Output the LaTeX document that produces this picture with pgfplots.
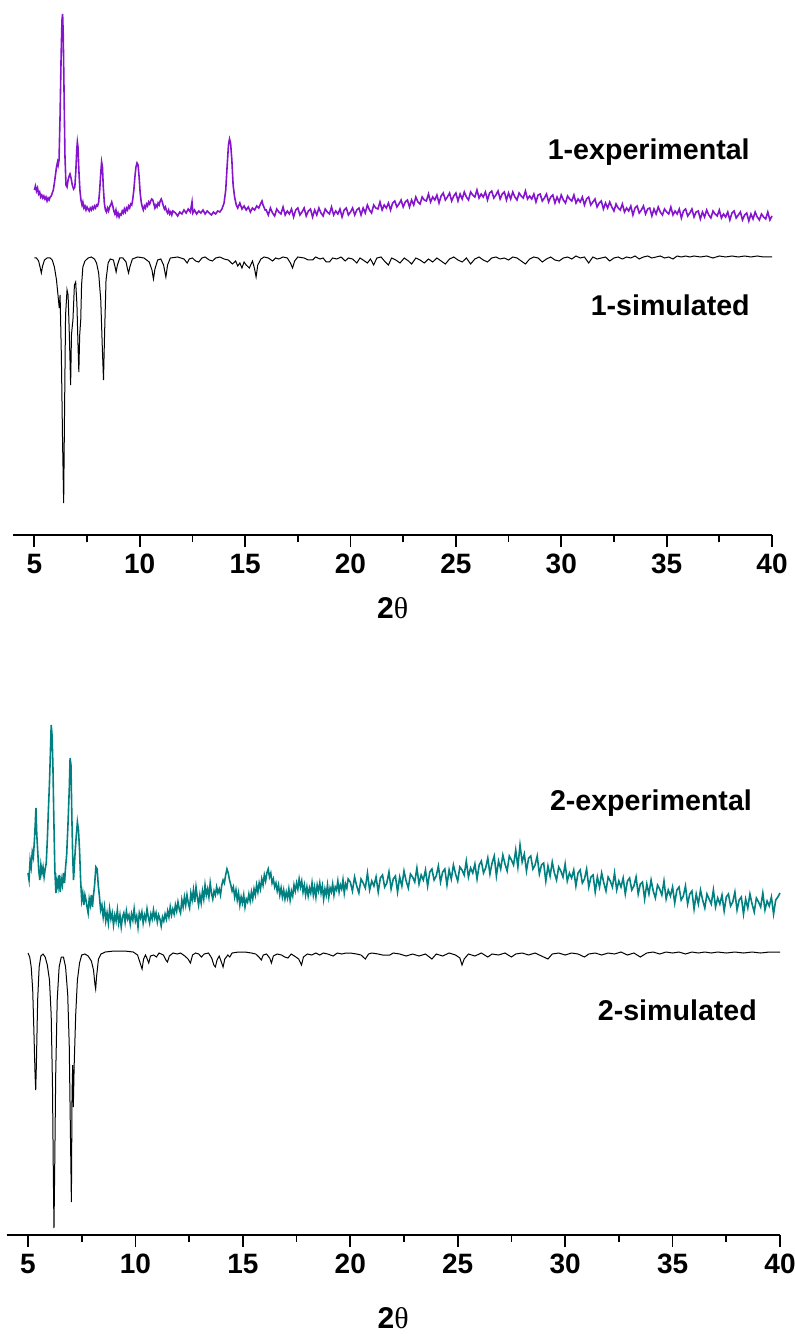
\documentclass[border=0pt]{standalone}
\usepackage{pgfplots}
\pgfplotsset{compat=1.18}
\usepackage{fontspec}
\setmainfont{Liberation Sans}
\newfontfamily\greekserif{Liberation Serif}
\definecolor{expviolet}{RGB}{133,20,205}
\definecolor{expteal}{RGB}{0,128,128}

\pgfplotsset{
  xrdaxis/.style={
    scale only axis,
    xmin=4, xmax=40, ymin=0, ymax=535,
    axis x line*=bottom, axis y line=none,
    ytick=\empty,
    xtick={5,10,...,40},
    minor xtick={7.5,12.5,...,37.5},
    tick align=outside,
    major tick length=6pt, minor tick length=3.5pt,
    every tick/.style={black, line width=0.9pt},
    axis line style={line width=1pt, black},
    tick label style={font=\fontsize{14}{16}\selectfont\bfseries},
    /pgf/number format/assume math mode=true,
    xlabel={\bfseries 2{\mdseries\greekserif θ}},
    clip=false,
  }
}

\begin{document}
\begin{tikzpicture}
\useasboundingbox (0,0) rectangle (397.5pt,-668pt);

% ---------------- top panel ----------------
\begin{axis}[xrdaxis,
  at={(6.65pt,-267.5pt)}, anchor=origin,
  width=379.35pt, height=267.5pt,
  xlabel style={at={(axis description cs:0.5,0)}, anchor=center, yshift=-36.5pt, font=\fontsize{15}{17}\selectfont},
]
\addplot[expviolet, line width=0.8pt] table {
5.0 345
5.05 349
5.1 344
5.15 347
5.2 341
5.25 343
5.3 338
5.35 340
5.4 337
5.45 339
5.5 336
5.55 338
5.6 334
5.65 337
5.7 335
5.75 338
5.8 339
5.85 342
5.9 345
5.95 352
6.0 360
6.05 368
6.1 373
6.13 370
6.17 375
6.22 420
6.27 480
6.31 515
6.34 521
6.37 500
6.41 440
6.45 380
6.5 350
6.55 348
6.6 355
6.65 359
6.69 361
6.74 357
6.8 350
6.86 346
6.92 348
6.97 365
7.01 385
7.04 393
7.07 388
7.11 365
7.16 345
7.21 335
7.26 330
7.3 333
7.35 327
7.4 329
7.45 325
7.5 328
7.55 326
7.6 324
7.65 327
7.7 325
7.75 328
7.8 326
7.85 329
7.9 327
7.95 330
8.0 329
8.05 333
8.1 345
8.15 362
8.19 373
8.23 368
8.27 348
8.32 332
8.37 325
8.42 323
8.47 327
8.52 324
8.57 328
8.62 330
8.67 333
8.72 329
8.77 324
8.82 321
8.87 325
8.92 319
8.97 322
9.02 318
9.07 321
9.12 320
9.17 324
9.22 322
9.27 326
9.32 323
9.37 327
9.42 325
9.47 329
9.52 327
9.57 331
9.62 330
9.67 336
9.72 345
9.77 358
9.82 368
9.87 372
9.92 370
9.97 358
10.02 342
10.07 333
10.12 328
10.17 325
10.22 329
10.27 327
10.32 331
10.37 329
10.42 333
10.47 331
10.52 334
10.57 336
10.62 335
10.67 331
10.72 327
10.77 330
10.82 328
10.87 332
10.92 330
10.97 334
11.02 336
11.07 333
11.12 329
11.17 326
11.22 328
11.27 324
11.32 322
11.37 325
11.42 321
11.47 323
11.52 320
11.57 324
11.7 322
11.8 319
11.9 323
12.0 321
12.1 325
12.2 322
12.3 326
12.4 323
12.48 333
12.52 322
12.6 325
12.7 321
12.8 324
12.9 322
13.0 325
13.1 321
13.2 324
13.3 322
13.4 320
13.5 323
13.6 321
13.7 324
13.8 323
13.9 326
14.0 332
14.08 345
14.15 370
14.21 390
14.26 396
14.31 392
14.37 375
14.43 350
14.5 338
14.58 330
14.65 327
14.75 332
14.85 326
14.95 329
15.05 325
15.15 328
15.25 323
15.35 327
15.45 325
15.55 329
15.65 327
15.75 332
15.8 334
15.85 330
15.95 325
16.0 325
16.1 320
16.2 327
16.3 322
16.4 319
16.5 326
16.6 323
16.7 321
16.8 328
16.9 320
17.0 324
17.1 321
17.2 326
17.3 318
17.4 325
17.5 327
17.6 320
17.7 323
17.8 327
17.9 319
18.0 324
18.1 326
18.2 318
18.3 325
18.4 320
18.5 327
18.6 322
18.7 319
18.8 326
18.9 323
19.0 321
19.1 328
19.2 320
19.3 324
19.4 321
19.5 326
19.6 318
19.7 325
19.8 327
19.9 320
20.0 323
20.1 327
20.2 320
20.3 325
20.4 327
20.5 320
20.6 327
20.7 322
20.8 330
20.9 325
21.0 322
21.1 330
21.2 327
21.3 326
21.4 333
21.5 325
21.6 330
21.7 327
21.8 332
21.9 325
22.0 332
22.1 334
22.2 328
22.3 331
22.4 335
22.5 328
22.6 333
22.7 335
22.8 328
22.9 335
23.0 330
23.1 338
23.2 333
23.3 331
23.4 338
23.5 335
23.6 334
23.7 341
23.8 333
23.9 338
24.0 335
24.1 340
24.2 332
24.3 339
24.4 342
24.5 335
24.6 338
24.7 342
24.8 334
24.9 339
25.0 342
25.1 334
25.2 341
25.3 336
25.4 343
25.5 338
25.6 335
25.7 343
25.8 340
25.9 338
26.0 345
26.1 337
26.2 341
26.3 338
26.4 343
26.5 335
26.6 342
26.7 344
26.8 337
26.9 340
27.0 344
27.1 336
27.2 341
27.3 343
27.4 335
27.5 342
27.6 336
27.7 343
27.8 338
27.9 335
28.0 342
28.1 339
28.2 337
28.3 344
28.4 336
28.5 339
28.6 336
28.7 341
28.8 333
28.9 340
29.0 341
29.1 334
29.2 337
29.3 341
29.4 333
29.5 338
29.6 340
29.7 332
29.8 338
29.9 333
30.0 340
30.1 335
30.2 332
30.3 339
30.4 336
30.5 334
30.6 340
30.7 332
30.8 336
30.9 333
31.0 338
31.1 330
31.2 336
31.3 338
31.4 330
31.5 333
31.6 336
31.7 328
31.8 332
31.9 334
32.0 326
32.1 332
32.2 327
32.3 333
32.4 328
32.5 324
32.6 331
32.7 327
32.8 325
32.9 331
33.0 323
33.1 327
33.2 324
33.3 329
33.4 320
33.5 327
33.6 329
33.7 322
33.8 325
33.9 329
34.0 321
34.1 326
34.2 327
34.3 319
34.4 326
34.5 321
34.6 328
34.7 323
34.8 320
34.9 326
35.0 323
35.1 321
35.2 328
35.3 320
35.4 324
35.5 321
35.6 326
35.7 317
35.8 324
35.9 326
36.0 319
36.1 322
36.2 326
36.3 318
36.4 323
36.5 324
36.6 316
36.7 323
36.8 318
36.9 325
37.0 320
37.1 317
37.2 324
37.3 321
37.4 319
37.5 325
37.6 317
37.7 321
37.8 318
37.9 323
38.0 315
38.1 322
38.2 324
38.3 317
38.4 320
38.5 323
38.6 315
38.7 320
38.8 322
38.9 314
39.0 321
39.1 316
39.2 323
39.3 318
39.4 315
39.5 321
39.6 318
39.7 316
39.8 323
39.9 315
40.0 319
};
\addplot[black, line width=0.5pt] table {
5.0 277
5.1 277
5.2 274
5.27 268
5.33 262
5.39 269
5.48 275
5.6 277
5.75 277
5.85 275
5.95 268
6.05 255
6.12 240
6.18 227
6.22 240
6.28 180
6.34 90
6.39 32
6.43 120
6.48 220
6.55 245
6.6 240
6.66 200
6.72 150
6.76 200
6.79 207
6.83 215
6.9 250
6.96 253
7.02 230
7.07 190
7.11 163
7.15 200
7.2 215
7.24 250
7.3 268
7.4 274
7.55 277
7.7 278
7.85 276
7.95 272
8.05 262
8.15 235
8.22 190
8.28 155
8.33 200
8.4 255
8.5 272
8.6 276
8.75 275
8.83 268
8.88 263
8.94 270
9.05 277
9.2 277
9.35 273
9.42 266
9.47 262
9.53 268
9.65 276
9.9 278
10.2 277
10.45 273
10.58 265
10.65 256
10.72 266
10.85 275
11.0 276
11.13 270
11.24 258
11.32 270
11.45 277
11.8 278
12.1 276
12.25 272
12.35 276
12.5 277
12.65 274
12.8 273
12.95 277
13.1 278
13.3 275
13.45 274
13.6 277
13.8 278
14.0 276
14.2 275
14.4 271
14.55 274
14.65 269
14.75 272
14.85 267
14.95 273
15.05 270
15.2 267
15.35 274
15.45 266
15.52 258
15.6 270
15.75 276
15.9 278
16.1 277
16.3 274
16.45 277
16.6 276
16.8 278
17.0 277
17.15 272
17.25 267
17.35 274
17.5 278
17.8 277
18.0 275
18.2 275
18.35 278
18.55 276
18.7 277
18.85 273
19.0 273
19.15 277
19.35 276
19.55 278
19.75 274
19.9 277
20.1 276
20.3 272
20.45 277
20.6 275
20.8 272
20.95 276
21.1 270
21.25 277
21.45 278
21.65 273
21.8 270
21.95 277
22.15 275
22.35 272
22.55 277
22.75 274
22.9 271
23.1 277
23.3 275
23.5 272
23.7 276
23.9 273
24.1 277
24.3 274
24.5 271
24.7 276
24.9 278
25.1 275
25.3 273
25.5 277
25.7 271
25.9 276
26.1 278
26.3 275
26.5 273
26.7 277
26.9 278
27.1 276
27.3 277
27.5 275
27.7 278
27.9 277
28.1 274
28.3 271
28.5 276
28.7 278
28.9 277
29.1 273
29.3 276
29.5 278
29.7 275
29.9 274
30.1 277
30.3 278
30.5 276
30.7 279
30.9 277
31.1 278
31.3 272
31.5 278
31.7 276
31.9 277
32.1 278
32.3 274
32.5 277
32.7 278
32.9 276
33.1 278
33.3 277
33.5 279
33.7 276
33.9 278
34.1 279
34.3 277
34.5 278
34.7 279
34.9 277
35.1 278
35.3 276
35.5 279
35.7 278
35.9 279
36.1 278
36.3 279
36.6 278
36.9 279
37.2 277
37.5 279
37.8 278
38.1 279
38.4 278
38.7 279
39.0 278
39.3 279
39.6 278
40.0 278
};
\node[anchor=east, inner sep=0pt, font=\fontsize{14.3}{16}\selectfont\bfseries] at (axis cs:38.96,383) {1-experimental};
\node[anchor=east, inner sep=0pt, font=\fontsize{14.3}{16}\selectfont\bfseries] at (axis cs:38.96,230) {1-simulated};
\end{axis}

% ---------------- bottom panel ----------------
\begin{axis}[xrdaxis,
  at={(3.25pt,-617.5pt)}, anchor=origin,
  width=386.75pt, height=267.5pt,
  xlabel style={at={(axis description cs:0.5,0)}, anchor=center, yshift=-41.5pt, font=\fontsize{15}{17}\selectfont},
]
\addplot[expteal, line width=0.8pt] table {
5.0 362
5.05 355
5.1 375
5.15 368
5.2 383
5.25 378
5.3 395
5.34 412
5.37 427
5.41 400
5.45 385
5.5 365
5.55 355
5.6 370
5.65 362
5.7 368
5.75 358
5.8 366
5.85 372
5.9 395
5.95 425
6.0 452
6.04 480
6.08 510
6.12 500
6.16 470
6.2 420
6.25 365
6.3 342
6.35 355
6.4 348
6.45 360
6.5 343
6.55 356
6.6 350
6.65 362
6.7 352
6.75 368
6.8 380
6.86 410
6.92 445
6.96 477
7.0 470
7.04 420
7.08 380
7.12 355
7.16 370
7.2 385
7.25 400
7.3 413
7.35 405
7.4 385
7.45 355
7.5 335
7.55 342
7.6 330
7.65 340
7.7 335
7.75 328
7.8 322
7.85 336
7.9 330
7.95 340
8.0 328
8.05 340
8.1 350
8.16 368
8.22 366
8.27 350
8.32 340
8.38 325
8.44 330
8.5 318
8.56 328
8.62 314
8.68 322
8.74 312
8.8 326
8.86 316
8.92 322
8.98 310
9.04 320
9.1 314
9.16 325
9.22 312
9.28 320
9.34 308
9.4 318
9.46 322
9.52 313
9.58 324
9.64 316
9.7 320
9.76 311
9.82 321
9.88 315
9.94 326
10.0 314
10.06 319
10.12 308
10.18 322
10.24 317
10.3 323
10.36 312
10.42 320
10.48 315
10.54 326
10.6 318
10.66 312
10.72 321
10.78 316
10.84 325
10.9 317
10.96 322
11.02 313
11.08 320
11.14 316
11.2 309
11.26 318
11.32 314
11.38 321
11.44 316
11.5 324
11.56 318
11.62 328
11.68 320
11.74 326
11.8 321
11.86 330
11.92 324
11.98 333
12.04 326
12.1 322
12.16 335
12.22 328
12.28 338
12.34 330
12.4 340
12.46 332
12.52 327
12.58 342
12.64 335
12.7 345
12.76 333
12.82 348
12.88 338
12.94 330
13.0 340
13.06 332
13.12 344
13.18 336
13.24 350
13.3 340
13.36 346
13.42 338
13.48 352
13.54 342
13.6 336
13.66 344
13.72 340
13.78 348
13.84 342
13.9 346
13.96 340
14.02 350
14.08 355
14.14 352
14.2 360
14.26 366
14.32 362
14.38 355
14.44 350
14.5 344
14.56 348
14.62 338
14.68 345
14.74 335
14.8 342
14.86 330
14.92 338
14.98 332
15.04 340
15.1 328
15.16 336
15.22 333
15.28 341
15.34 334
15.4 343
15.46 336
15.52 346
15.58 340
15.64 350
15.7 343
15.76 352
15.82 346
15.88 356
15.94 350
16.0 360
16.06 354
16.12 362
16.18 366
16.24 358
16.3 362
16.36 352
16.42 356
16.48 348
16.54 352
16.6 344
16.66 350
16.72 340
16.78 347
16.84 338
16.9 345
16.96 336
17.02 343
17.08 337
17.14 346
17.2 335
17.26 344
17.32 339
17.38 350
17.44 344
17.5 352
17.56 346
17.62 356
17.68 348
17.74 354
17.8 343
17.86 350
17.92 340
17.98 348
18.04 339
18.1 347
18.16 342
18.22 352
18.28 340
18.34 348
18.4 338
18.46 350
18.52 344
18.58 352
18.64 342
18.7 349
18.76 336
18.82 346
18.88 340
18.94 350
19.0 338
19.06 347
19.12 343
19.18 351
19.24 340
19.3 348
19.36 345
19.42 354
19.48 343
19.54 350
19.6 346
19.66 355
19.72 342
19.78 351
19.84 347
19.9 356
20.0 353
20.1 344
20.2 358
20.3 349
20.4 342
20.5 356
20.6 352
20.7 347
20.8 362
20.9 345
21.0 354
21.1 349
21.2 358
21.3 343
21.4 357
21.5 360
21.6 348
21.7 352
21.8 363
21.9 346
22.0 356
22.1 359
22.2 343
22.3 358
22.4 349
22.5 364
22.6 354
22.7 347
22.8 361
22.9 358
23.0 353
23.1 367
23.2 351
23.3 360
23.4 355
23.5 365
23.6 349
23.7 363
23.8 366
23.9 355
24.0 359
24.1 369
24.2 353
24.3 363
24.4 366
24.5 350
24.6 365
24.7 356
24.8 370
24.9 361
25.0 354
25.1 368
25.2 365
25.3 360
25.4 374
25.5 358
25.6 367
25.7 362
25.8 371
25.9 356
26.0 370
26.1 374
26.2 362
26.3 367
26.4 377
26.5 361
26.6 372
26.7 379
26.8 359
26.9 374
27.0 366
27.1 380
27.2 371
27.3 364
27.4 379
27.5 375
27.6 370
27.7 385
27.8 368
27.9 390
28.0 373
28.1 381
28.2 364
28.3 377
28.4 379
28.5 366
28.6 370
28.7 379
28.8 361
28.9 370
29.0 372
29.1 354
29.2 369
29.3 359
29.4 373
29.5 362
29.6 355
29.7 368
29.8 364
29.9 358
30.0 371
30.1 354
30.2 362
30.3 357
30.4 365
30.5 349
30.6 362
30.7 365
30.8 352
30.9 356
31.0 366
31.1 348
31.2 358
31.3 360
31.4 343
31.5 358
31.6 348
31.7 362
31.8 352
31.9 344
32.0 358
32.1 354
32.2 348
32.3 362
32.4 345
32.5 354
32.6 348
32.7 357
32.8 341
32.9 354
33.0 357
33.1 345
33.2 349
33.3 358
33.4 341
33.5 351
33.6 353
33.7 336
33.8 351
33.9 341
34.0 355
34.1 344
34.2 337
34.3 350
34.4 346
34.5 340
34.6 354
34.7 336
34.8 345
34.9 339
35.0 348
35.1 332
35.2 345
35.3 348
35.4 335
35.5 339
35.6 349
35.7 331
35.8 341
35.9 344
36.0 326
36.1 341
36.2 331
36.3 345
36.4 335
36.5 327
36.6 341
36.7 336
36.8 331
36.9 345
37.0 328
37.1 337
37.2 331
37.3 340
37.4 324
37.5 338
37.6 341
37.7 329
37.8 333
37.9 343
38.0 325
38.1 335
38.2 338
38.3 321
38.4 336
38.5 327
38.6 341
38.7 331
38.8 323
38.9 337
39.0 333
39.1 328
39.2 342
39.3 325
39.4 334
39.5 329
39.6 338
39.7 321
39.8 335
39.9 338
40.0 342
};
\addplot[black, line width=0.5pt] table {
5.0 282
5.08 278
5.15 268
5.22 245
5.28 200
5.33 160
5.36 145
5.39 170
5.45 235
5.52 268
5.6 279
5.7 281
5.8 278
5.9 270
6.0 255
6.08 220
6.14 150
6.18 60
6.21 7
6.24 60
6.29 160
6.36 235
6.45 268
6.55 278
6.65 278
6.75 268
6.85 240
6.92 190
6.97 110
7.02 33
7.05 140
7.08 170
7.11 128
7.15 170
7.22 220
7.3 255
7.4 272
7.5 280
7.65 281
7.8 279
7.95 274
8.05 265
8.12 250
8.15 246
8.19 258
8.28 276
8.4 281
8.6 283
9.0 284
9.5 284
9.9 283
10.1 280
10.22 272
10.31 266
10.38 276
10.47 280
10.55 276
10.62 272
10.7 279
10.85 280
10.98 278
11.1 282
11.3 280
11.42 275
11.49 273
11.58 279
11.75 282
11.95 281
12.1 282
12.3 279
12.45 276
12.56 272
12.66 280
12.8 282
12.95 281
13.07 278
13.2 281
13.4 282
13.55 277
13.65 270
13.72 268
13.8 275
13.9 279
14.0 273
14.08 268
14.16 276
14.3 280
14.39 278
14.5 282
14.8 283
15.1 283
15.4 282
15.6 281
15.75 278
15.86 275
15.95 280
16.1 281
16.25 277
16.33 272
16.42 279
16.6 281
16.8 280
16.95 278
17.1 277
17.25 281
17.4 279
17.6 276
17.73 270
17.82 278
18.0 281
18.2 280
18.4 282
18.58 280
18.75 282
18.95 281
19.2 279
19.4 282
19.6 281
19.8 282
20.0 282
20.3 281
20.5 280
20.7 276
20.85 281
21.0 282
21.3 281
21.5 280
21.84 280
22.0 282
22.3 281
22.6 279
22.9 281
23.2 279
23.5 281
23.8 276
24.0 281
24.3 279
24.6 282
24.9 280
25.1 277
25.2 270
25.3 276
25.5 281
25.8 279
26.1 282
26.4 278
26.6 281
26.9 280
27.2 282
27.5 278
27.7 281
28.0 282
28.3 280
28.6 282
28.9 279
29.2 276
29.4 281
29.7 282
30.0 280
30.3 282
30.6 281
30.9 278
31.1 281
31.4 282
31.7 280
32.0 282
32.3 281
32.6 283
32.9 280
33.2 282
33.5 278
33.8 282
34.1 283
34.4 281
34.7 283
35.0 282
35.3 283
35.6 281
35.9 283
36.2 282
36.5 283
36.8 282
37.1 283
37.5 282
37.9 283
38.3 282
38.7 283
39.1 282
39.5 283
40.0 283
};
\node[anchor=east, inner sep=0pt, font=\fontsize{14.3}{16}\selectfont\bfseries] at (axis cs:38.71,432) {2-experimental};
\node[anchor=east, inner sep=0pt, font=\fontsize{14.3}{16}\selectfont\bfseries] at (axis cs:38.94,225) {2-simulated};
\end{axis}
\end{tikzpicture}
\end{document}
